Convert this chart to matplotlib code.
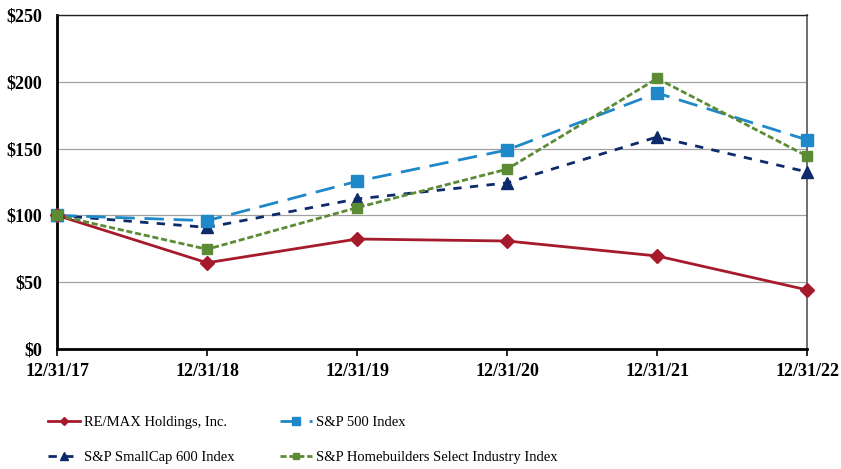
import matplotlib.pyplot as plt
from matplotlib.ticker import FuncFormatter

dates = ["12/31/17", "12/31/18", "12/31/19", "12/31/20", "12/31/21", "12/31/22"]
remax = [100, 64.5, 82.3, 80.8, 69.6, 44.2]
sp500 = [100, 96.0, 125.5, 149.0, 191.6, 156.5]
smallcap = [100, 91.0, 112.3, 124.3, 158.7, 132.5]
homebuilders = [100, 74.6, 105.8, 134.6, 202.5, 144.3]

plt.rcParams['font.family'] = ['Liberation Serif', 'DejaVu Serif']

fig = plt.figure(figsize=(8.41, 4.69), dpi=100)
ax = fig.add_axes([0.0678, 0.256, 0.892, 0.712])

x = list(range(len(dates)))

l1, = ax.plot(x, remax, color="#A61B2B", lw=2, marker="D", markersize=7,
              label="RE/MAX Holdings, Inc.", zorder=5, clip_on=False)
l2, = ax.plot(x, sp500, color="#1E88C8", lw=2, dashes=(7, 3.5), marker="s", markersize=9,
              label="S&P 500 Index", zorder=4, clip_on=False)
l3, = ax.plot(x, smallcap, color="#0D2B6B", lw=2, dashes=(3, 3), marker="^", markersize=9,
              label="S&P SmallCap 600 Index", zorder=3, clip_on=False)
l4, = ax.plot(x, homebuilders, color="#5B8B35", lw=2, dashes=(2.2, 1), marker="s", markersize=7.5,
              label="S&P Homebuilders Select Industry Index", zorder=6, clip_on=False)

ax.set_xlim(0, 5)
ax.set_ylim(0, 250)
ax.set_yticks(range(0, 251, 50))
ax.yaxis.set_major_formatter(FuncFormatter(lambda v, p: "${:d}".format(int(v))))
ax.set_xticks(x)
ax.set_xticklabels(dates)
for lab in ax.get_xticklabels() + ax.get_yticklabels():
    lab.set_fontweight("bold")
    lab.set_fontsize(13)

ax.grid(axis="y", color="#a0a0a0", lw=0.9)
ax.set_axisbelow(True)
ax.tick_params(axis="y", length=0, pad=10.5)
ax.tick_params(axis="x", length=5, width=1.2, direction="out", pad=5)

ax.spines["left"].set_linewidth(2)
ax.spines["bottom"].set_linewidth(2)
ax.spines["top"].set_linewidth(1)
ax.spines["right"].set_linewidth(1.2)
ax.spines["top"].set_color("#222222")
ax.spines["right"].set_color("#555555")

# legend: two columns placed by hand
kw = dict(frameon=False, fontsize=10.5, handlelength=2.2, handletextpad=0.25,
          labelspacing=1.5, markerscale=0.65, borderpad=0, borderaxespad=0,
          loc="center left")
fig.legend([l1, l3], [l1.get_label(), l3.get_label()],
           bbox_to_anchor=(0.057, 0.062), **kw)
fig.legend([l2, l4], [l2.get_label(), l4.get_label()],
           bbox_to_anchor=(0.333, 0.062), **kw)

fig.savefig("out.png", dpi=100)
